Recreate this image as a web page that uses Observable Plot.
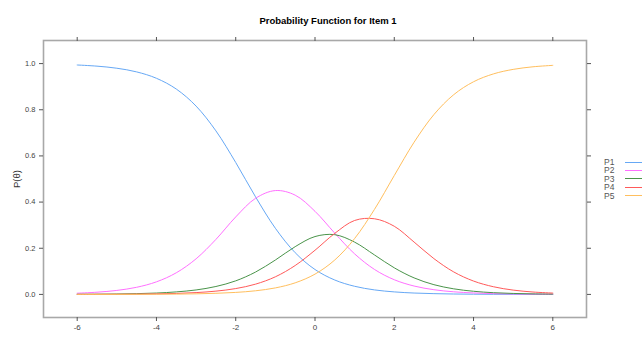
<!DOCTYPE html>
<html>
<head>
<meta charset="utf-8">
<script src="https://cdn.jsdelivr.net/npm/d3@7"></script>
<script src="https://cdn.jsdelivr.net/npm/@observablehq/plot@0.6"></script>
<style>
  html, body { margin: 0; padding: 0; background: #fff; }
  #chart { position: relative; width: 642px; height: 340px; overflow: hidden; }
  #legend { position: absolute; left: 604px; top: 158px; font-family: "Liberation Sans", Arial, sans-serif;
            font-size: 8.5px; color: #555; }
  #legend .row { display: flex; align-items: center; height: 8.4px; }
  #legend .lab { width: 21px; line-height: 8.4px; }
  #legend .sw { width: 20px; height: 0; border-top: 1px solid; }
</style>
</head>
<body>
<div id="chart"><div id="legend"></div></div>
<script>
// Trait values at which each category curve was sampled
const theta = [-6, -5.5, -5, -4.5, -4, -3.5, -3, -2.5, -2, -1.5, -1, -0.5, 0,
               0.5, 1, 1.5, 2, 2.5, 3, 3.5, 4, 4.5, 5, 5.5, 6];

// Category response probabilities for item 1
const P1 = [0.9939, 0.9889, 0.9799, 0.9640, 0.9363, 0.8897, 0.8158, 0.7085, 0.5715, 0.4226,
            0.2866, 0.1807, 0.1079, 0.0623, 0.0352, 0.0196, 0.0109, 0.0060, 0.0033, 0.0018,
            0.0010, 0.0005, 0.0003, 0.0002, 0.0001];
const P2 = [0.0053, 0.0096, 0.0173, 0.0309, 0.0545, 0.0937, 0.1543, 0.2383, 0.3357, 0.4163,
            0.4499, 0.4300, 0.3600, 0.2651, 0.1756, 0.1083, 0.0636, 0.0363, 0.0204, 0.0113,
            0.0063, 0.0034, 0.0019, 0.0010, 0.0006];
const P3 = [0.0006, 0.0010, 0.0018, 0.0033, 0.0060, 0.0109, 0.0194, 0.0343, 0.0588, 0.0969,
            0.1490, 0.2069, 0.2507, 0.2587, 0.2265, 0.1711, 0.1152, 0.0716, 0.0422, 0.0242,
            0.0136, 0.0075, 0.0042, 0.0023, 0.0013];
const P4 = [0.0002, 0.0004, 0.0007, 0.0013, 0.0024, 0.0043, 0.0079, 0.0142, 0.0253, 0.0445,
            0.0763, 0.1252, 0.1914, 0.2646, 0.3204, 0.3278, 0.2953, 0.2268, 0.1551, 0.0974,
            0.0579, 0.0333, 0.0187, 0.0104, 0.0058];
const P5 = [0.0001, 0.0001, 0.0002, 0.0004, 0.0008, 0.0014, 0.0026, 0.0048, 0.0087, 0.0157,
            0.0282, 0.0502, 0.0879, 0.1493, 0.2423, 0.3682, 0.5150, 0.6593, 0.7790, 0.8653,
            0.9213, 0.9552, 0.9749, 0.9861, 0.9923];

const categories = ["P1", "P2", "P3", "P4", "P5"];
const colors = ["#66a8f5", "#ff70ff", "#4a944a", "#ff5a5a", "#ffbf5e"];
const xTicks = [-6, -4, -2, 0, 2, 4, 6];
const yTicks = [0, 0.2, 0.4, 0.6, 0.8, 1.0];
const titleText = "Probability Function for Item 1";

const series = [P1, P2, P3, P4, P5];
const rows = categories.flatMap((c, i) => theta.map((t, j) => ({theta: t, p: series[i][j], cat: c})));

const tickColor = "#555";
const plot = Plot.plot({
  width: 642,
  height: 340,
  marginLeft: 43,
  marginRight: 56,
  marginTop: 40,
  marginBottom: 23,
  style: {fontFamily: "'Liberation Sans', Arial, sans-serif", fontSize: "7.5px", color: "#444", background: "#fff"},
  x: {domain: [-6.85, 6.85]},
  y: {domain: [-0.1, 1.1]},
  color: {domain: categories, range: colors},
  marks: [
    Plot.line(rows, {x: "theta", y: "p", z: "cat", stroke: "cat", strokeWidth: 1, curve: "catmull-rom"}),
    Plot.frame({stroke: "#a8a8a8", strokeWidth: 1.6}),
    Plot.axisX({anchor: "bottom", ticks: xTicks, tickSize: 4, tickPadding: 3, stroke: tickColor,
                tickFormat: d => String(d),
                label: "θ", labelAnchor: "center", labelArrow: "none", labelOffset: 29, fontSize: 8}),
    Plot.axisX({anchor: "top", ticks: xTicks, tickSize: 4, stroke: tickColor, tickFormat: () => "", label: null}),
    Plot.axisY({anchor: "left", ticks: yTicks, tickSize: 4, tickPadding: 4, stroke: tickColor,
                tickFormat: d3.format(".1f"), fontSize: 7.5, label: null}),
    Plot.axisY({anchor: "left", ticks: [], label: "P(θ)", labelAnchor: "center", labelArrow: "none",
                labelOffset: 30, fontSize: 9.5, color: "#333"}),
    Plot.axisY({anchor: "right", ticks: yTicks, tickSize: 4, stroke: tickColor, tickFormat: () => "", label: null}),
    Plot.text([titleText], {frameAnchor: "top", dy: -23, dx: 13, fontWeight: "bold", fontSize: 9.5, fill: "#000"})
  ]
});

const chart = document.getElementById("chart");
chart.insertBefore(plot, chart.firstChild);

// Key at the right of the panel
const legend = d3.select("#legend");
categories.forEach((c, i) => {
  const row = legend.append("div").attr("class", "row");
  row.append("span").attr("class", "lab").text(c);
  row.append("span").attr("class", "sw").style("border-color", colors[i]);
});
</script>
</body>
</html>
